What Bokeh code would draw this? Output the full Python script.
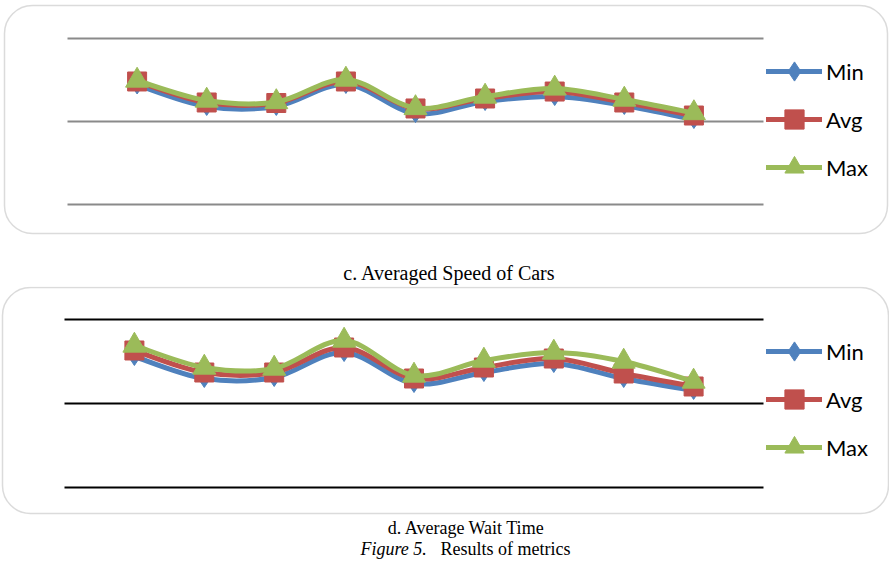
import numpy as np
from bokeh.plotting import figure
from bokeh.layouts import column
from bokeh.models import Range1d, BoxAnnotation, Label, Legend, LegendItem
from bokeh.embed import file_html
from bokeh.resources import INLINE

# Simulation runs along the x axis
runs = [1, 2, 3, 4, 5, 6, 7, 8, 9]

# c. Averaged speed of cars
speed_grid = [0, 10, 20]
speed_min = [14.40, 11.81, 11.81, 14.46, 10.96, 12.41, 13.01, 11.93, 10.24]
speed_avg = [14.82, 12.29, 12.23, 14.82, 11.57, 12.77, 13.61, 12.29, 10.72]
speed_max = [14.94, 12.53, 12.35, 15.06, 11.63, 13.01, 13.98, 12.65, 11.02]

# d. Average wait time
wait_grid = [0, 20, 40]
wait_min = [31.19, 25.95, 26.19, 32.14, 24.76, 27.38, 29.52, 25.95, 23.10]
wait_avg = [32.62, 27.38, 27.38, 33.33, 25.95, 28.57, 30.71, 27.14, 24.05]
wait_max = [33.81, 28.57, 28.33, 35.00, 26.67, 30.24, 32.14, 30.00, 25.24]

series_names = ["Min", "Avg", "Max"]
colors = ["#4F81BD", "#C0504D", "#9BBB59"]
markers = ["diamond", "square", "triangle"]
marker_sizes = [18, 19, 23]

W = 889


def smooth_segments(xs, ys):
    """Cubic Bezier pieces (Catmull-Rom style) passing through every point."""
    x = np.asarray(xs, float)
    y = np.asarray(ys, float)
    n = len(x)
    xp = np.concatenate([[x[0]], x, [x[-1]]])
    yp = np.concatenate([[y[0]], y, [y[-1]]])
    return dict(
        x0=x[:-1], y0=y[:-1], x1=x[1:], y1=y[1:],
        cx0=x[:-1] + (xp[2:n + 1] - xp[0:n - 1]) / 6.0,
        cy0=y[:-1] + (yp[2:n + 1] - yp[0:n - 1]) / 6.0,
        cx1=x[1:] - (xp[3:n + 2] - xp[1:n]) / 6.0,
        cy1=y[1:] - (yp[3:n + 2] - yp[1:n]) / 6.0,
    )


def panel(height, x_range, y_range, grid_vals, grid_color, series, box, caption_rows):
    p = figure(width=W, height=height, x_range=x_range, y_range=y_range,
               output_backend="svg", toolbar_location=None, min_border=0,
               x_axis_location=None, y_axis_location=None, title=None,
               outline_line_color=None, background_fill_color="white",
               border_fill_color="white")
    p.grid.visible = False

    # horizontal gridlines across the category span
    p.segment(x0=0, x1=len(runs) + 1, y0=grid_vals, y1=grid_vals,
              line_color=grid_color, line_width=2)

    items = []
    for name, vals, col, mk, ms in zip(series_names, series, colors, markers, marker_sizes):
        seg = smooth_segments(runs, vals)
        r_line = p.bezier(source=seg, x0="x0", y0="y0", x1="x1", y1="y1",
                          cx0="cx0", cy0="cy0", cx1="cx1", cy1="cy1",
                          line_color=col, line_width=5, line_cap="round")
        r_mk = p.scatter(x=runs, y=vals, marker=mk, size=ms,
                         fill_color=col, line_color=col, line_width=1)
        items.append(LegendItem(label=name, renderers=[r_line, r_mk]))

    legend = Legend(items=items, location=(766, 95), orientation="vertical",
                    glyph_width=56, glyph_height=48, label_height=48,
                    spacing=0, padding=0, margin=0, label_standoff=4,
                    border_line_color=None, background_fill_alpha=0,
                    label_text_font="Lato", label_text_font_size="22px",
                    label_text_color="black")
    p.add_layout(legend)

    left, right, top, bottom = box
    p.add_layout(BoxAnnotation(left=left, right=right, top=top, bottom=bottom,
                               left_units="screen", right_units="screen",
                               top_units="screen", bottom_units="screen",
                               fill_color=None, fill_alpha=0,
                               line_color="#888888", line_width=1.5,
                               border_radius=28))

    for text, x, y, size, style, align in caption_rows:
        p.add_layout(Label(x=x, y=y, x_units="screen", y_units="screen", text=text,
                           text_font="Liberation Serif", text_font_size=size,
                           text_font_style=style, text_align=align,
                           text_baseline="middle", text_color="black"))
    return p


p1 = panel(286,
           Range1d(-67 / 69.6, (W - 67) / 69.6),
           Range1d((204 - 286) / 8.3, 204 / 8.3),
           speed_grid, "#8a8a8a",
           [speed_min, speed_avg, speed_max],
           (4, 887, 281, 53),
           [("c. Averaged Speed of Cars", 449, 14, "20px", "normal", "center")])

p2 = panel(280,
           Range1d(-64 / 69.9, (W - 64) / 69.9),
           Range1d((201 - 280) / 4.2, 201 / 4.2),
           wait_grid, "black",
           [wait_min, wait_avg, wait_max],
           (2, 888, 279, 53),
           [("d. Average Wait Time", 466, 39, "18px", "normal", "center"),
            ("Figure 5.", 360, 18, "18px", "italic", "left"),
            ("Results of metrics", 440, 18, "18px", "normal", "left")])

layout = column(p1, p2, spacing=0)

with open("out.html", "w") as f:
    f.write(file_html(layout, INLINE))
